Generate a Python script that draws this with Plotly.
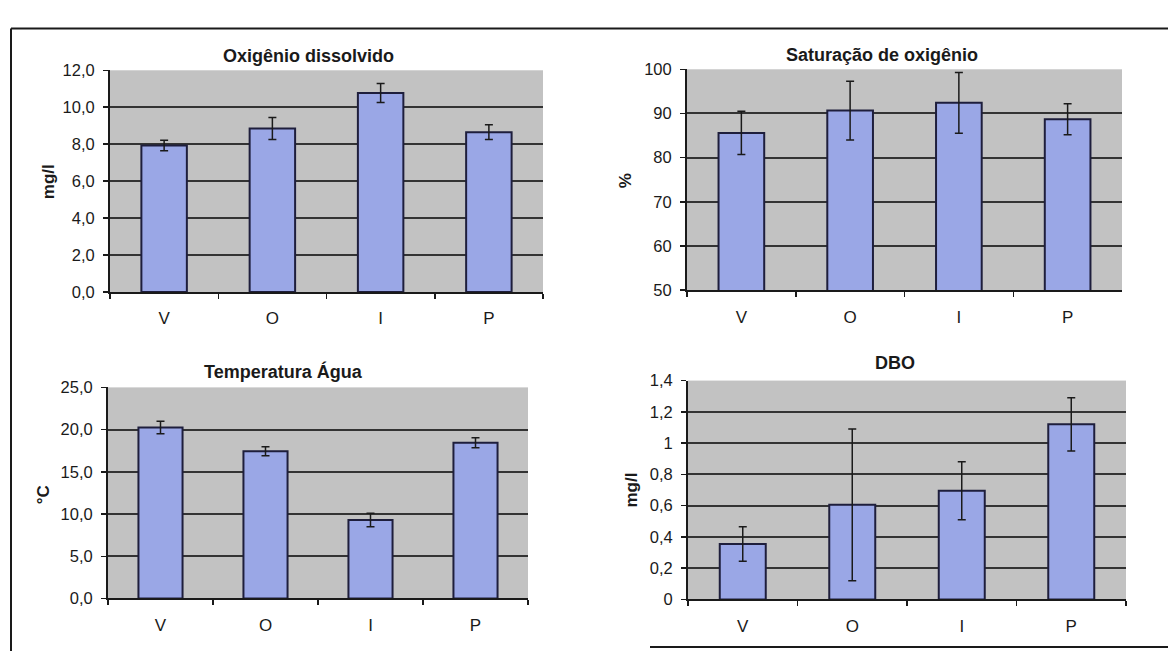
import plotly.graph_objects as go

W, H = 1168, 660

categories = ["V", "O", "I", "P"]

od_values = [7.93, 8.85, 10.77, 8.65]
od_err = [0.29, 0.6, 0.51, 0.4]
od_ticks = [0, 2, 4, 6, 8, 10, 12]
od_ticktext = ["0,0", "2,0", "4,0", "6,0", "8,0", "10,0", "12,0"]

sat_values = [85.6, 90.65, 92.4, 88.7]
sat_err = [4.9, 6.65, 6.9, 3.5]
sat_ticks = [50, 60, 70, 80, 90, 100]
sat_ticktext = ["50", "60", "70", "80", "90", "100"]

temp_values = [20.25, 17.43, 9.3, 18.45]
temp_err = [0.73, 0.53, 0.8, 0.6]
temp_ticks = [0, 5, 10, 15, 20, 25]
temp_ticktext = ["0,0", "5,0", "10,0", "15,0", "20,0", "25,0"]

dbo_values = [0.355, 0.605, 0.695, 1.12]
dbo_err = [0.11, 0.485, 0.185, 0.17]
dbo_ticks = [0, 0.2, 0.4, 0.6, 0.8, 1.0, 1.2, 1.4]
dbo_ticktext = ["0", "0,2", "0,4", "0,6", "0,8", "1", "1,2", "1,4"]

titles = ["Oxigênio dissolvido", "Saturação de oxigênio", "Temperatura Água", "DBO"]
ytitles = ["mg/l", "%", "°C", "mg/l"]

FONT = "Arial, Liberation Sans, sans-serif"
BAR = "#9aa7e6"
BAR_LINE = "#1e1e3c"
GRID = "#333333"
PLOTBG = "#c2c2c2"
INK = "#1a1a1a"

# panel boxes in pixels: (x0, x1, ytop, ybottom)
panels = [
    (110, 543, 63, 291),
    (687, 1122, 62, 289),
    (108, 528, 389, 606),
    (688, 1126, 382, 607),
]
yranges = [[0, 12], [50, 100], [0, 25], [0, 1.4]]
series = [
    (od_values, od_err, od_ticks, od_ticktext),
    (sat_values, sat_err, sat_ticks, sat_ticktext),
    (temp_values, temp_err, temp_ticks, temp_ticktext),
    (dbo_values, dbo_err, dbo_ticks, dbo_ticktext),
]
title_pos = [(309, 48), (882, 47), (283, 373), (895, 364)]
ytitle_pos = [(48, 178), (625, 177), (43, 500), (631, 495)]

fig = go.Figure()
layout = dict(
    width=W, height=H,
    margin=dict(l=0, r=0, t=0, b=0),
    paper_bgcolor="white",
    plot_bgcolor=PLOTBG,
    showlegend=False,
    font=dict(family=FONT, color=INK),
    annotations=[],
    shapes=[],
)

for i, ((vals, errs, tv, tt), (x0, x1, yt, yb)) in enumerate(zip(series, panels)):
    n = "" if i == 0 else str(i + 1)
    fig.add_trace(go.Bar(
        x=categories, y=vals,
        xaxis="x" + n, yaxis="y" + n,
        width=0.42,
        marker=dict(color=BAR, line=dict(color=BAR_LINE, width=2)),
        error_y=dict(type="data", array=errs, visible=True,
                     color=INK, thickness=1.5, width=4),
    ))
    layout["xaxis" + n] = dict(
        domain=[x0 / W, x1 / W], anchor="y" + n,
        type="category", range=[-0.5, 3.5],
        showline=True, linecolor=INK, linewidth=2,
        ticks="outside", tickson="boundaries", ticklen=5,
        tickcolor=INK, tickwidth=1.5,
        showgrid=False, zeroline=False,
        tickfont=dict(size=17, family=FONT, color=INK),
        ticklabelstandoff=10,
        fixedrange=True,
    )
    layout["yaxis" + n] = dict(
        domain=[1 - yb / H, 1 - yt / H], anchor="x" + n,
        range=yranges[i],
        tickvals=tv, ticktext=tt,
        showline=True, linecolor=INK, linewidth=2,
        ticks="outside", ticklen=5, tickcolor=INK, tickwidth=1.5,
        showgrid=True, gridcolor=GRID, gridwidth=2,
        zeroline=False,
        tickfont=dict(size=16.5, family=FONT, color=INK),
        ticklabelstandoff=5,
        fixedrange=True,
    )
    tx, ty = title_pos[i]
    layout["annotations"].append(dict(
        x=tx / W, y=1 - ty / H, xref="paper", yref="paper",
        text="<b>" + titles[i] + "</b>", showarrow=False,
        xanchor="center", yanchor="middle",
        font=dict(size=18, family=FONT, color=INK),
    ))
    ax, ay = ytitle_pos[i]
    layout["annotations"].append(dict(
        x=ax / W, y=1 - ay / H, xref="paper", yref="paper",
        text="<b>" + ytitles[i] + "</b>", showarrow=False, textangle=-90,
        xanchor="center", yanchor="middle",
        font=dict(size=17, family=FONT, color=INK),
    ))

# frame lines of the scanned figure
line_style = dict(color=INK, width=2)
layout["shapes"] += [
    dict(type="line", xref="paper", yref="paper",
         x0=11 / W, x1=1, y0=1 - 20 / H, y1=1 - 20 / H, line=line_style),
    dict(type="line", xref="paper", yref="paper",
         x0=11 / W, x1=11 / W, y0=1 - 20 / H, y1=0, line=line_style),
    dict(type="line", xref="paper", yref="paper",
         x0=650 / W, x1=1, y0=1 - 656 / H, y1=1 - 656 / H, line=line_style),
]

fig.update_layout(**layout)
fig.write_html(
    "out.html",
    config={"displayModeBar": False, "staticPlot": True},
    post_script="document.body.style.margin='0';document.body.style.overflow='hidden';",
)
